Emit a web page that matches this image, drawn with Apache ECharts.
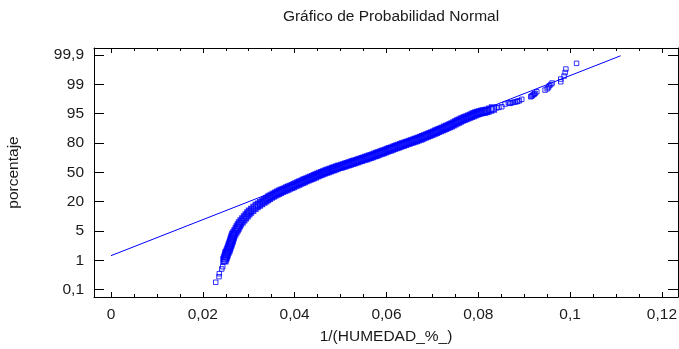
<!DOCTYPE html>
<html>
<head>
<meta charset="utf-8">
<script src="https://cdn.jsdelivr.net/npm/echarts@6/dist/echarts.min.js"></script>
<style>html,body{margin:0;padding:0;background:#fff}#c{width:679px;height:349px}</style>
</head>
<body>
<div id="c"></div>
<script>
// Titles / labels
var chartTitle = 'Gráfico de Probabilidad Normal';
var xName = '1/(HUMEDAD_%_)';
var yName = 'porcentaje';
// Y tick labels (probability scale, equally spaced positions 0..8)
var yTickLabels = ['0,1', '1', '5', '20', '50', '80', '95', '99', '99,9'];
// X ticks
var xMajorTicks = [0, 0.02, 0.04, 0.06, 0.08, 0.1, 0.12];
var xMinorTicks = [0.005, 0.01, 0.015, 0.025, 0.03, 0.035, 0.045, 0.05, 0.055, 0.065, 0.07, 0.075,
  0.085, 0.09, 0.095, 0.105, 0.11, 0.115];
// Fitted reference line (x, probability-axis position)
var fitLine = [[0, 1.159], [0.111, 7.975]];
// Observations: x = 1/HUMEDAD, y = position on the probability axis (0 = 0,1 % ... 8 = 99,9 %)
// lower tail (sparse points)
var lowTailX = [0.02281,0.02353,0.02359,0.02412,0.02433,0.02462];
var lowTailY = [0.252,0.443,0.545,0.706,0.784,0.954];
// dense central band
var coreX = [0.02470,0.02484,0.02500,0.02510,
  0.02521,0.02538,0.02555,0.02568,0.02580,0.02593,0.02605,0.02618,0.02630,0.02641,
  0.02652,0.02664,0.02686,0.02712,0.02738,0.02759,0.02784,0.02810,0.02845,0.02882,
  0.02919,0.02955,0.02992,0.03028,0.03076,0.03125,0.03174,0.03222,0.03270,0.03318,
  0.03360,0.03400,0.03440,0.03480,0.03520,0.03560,0.03600,0.03640,0.03680,0.03720,
  0.03760,0.03800,0.03840,0.03880,0.03920,0.03960,0.04000,0.04040,0.04080,0.04120,
  0.04160,0.04200,0.04240,0.04280,0.04320,0.04360,0.04400,0.04440,0.04480,0.04520,
  0.04560,0.04600,0.04640,0.04680,0.04720,0.04760,0.04800,0.04840,0.04880,0.04920,
  0.04960,0.05000,0.05040,0.05080,0.05120,0.05160,0.05200,0.05240,0.05280,0.05320,
  0.05360,0.05400,0.05440,0.05480,0.05520,0.05560,0.05600,0.05640,0.05680,0.05720,
  0.05760,0.05800,0.05840,0.05880,0.05920,0.05960,0.06000,0.06040,0.06080,0.06120,
  0.06160,0.06200,0.06240,0.06280,0.06320,0.06360,0.06400,0.06440,0.06480,0.06520,
  0.06560,0.06600,0.06640,0.06680,0.06720,0.06760,0.06800,0.06840,0.06880,0.06920,
  0.06960,0.07000,0.07040,0.07080,0.07120,0.07160,0.07200,0.07240,0.07280,0.07320,
  0.07360,0.07400,0.07440,0.07480,0.07520,0.07560,0.07600,0.07640,0.07680,0.07720,
  0.07760,0.07800,0.07840,0.07880,0.07920,0.07960,0.08000,0.08040,0.08080,0.08120,
  0.08160,0.08200,0.08260,0.08320];
var coreY = [1.000,1.070,1.130,1.190,
  1.241,1.300,1.353,1.410,1.470,1.524,1.580,1.640,1.694,1.750,
  1.810,1.864,1.920,1.990,2.059,2.120,2.190,2.263,2.330,2.400,
  2.468,2.530,2.600,2.658,2.720,2.790,2.853,2.900,2.950,2.999,
  3.046,3.090,3.134,3.173,3.206,3.239,3.272,3.305,3.338,3.366,
  3.394,3.421,3.449,3.476,3.504,3.533,3.562,3.591,3.620,3.648,
  3.677,3.705,3.732,3.759,3.786,3.813,3.840,3.867,3.894,3.921,
  3.947,3.974,4.000,4.023,4.046,4.069,4.092,4.115,4.138,4.161,
  4.184,4.198,4.219,4.240,4.261,4.282,4.302,4.323,4.344,4.365,
  4.386,4.407,4.428,4.449,4.470,4.490,4.511,4.532,4.555,4.578,
  4.601,4.625,4.648,4.671,4.694,4.718,4.741,4.764,4.787,4.811,
  4.834,4.857,4.881,4.905,4.928,4.950,4.972,4.994,5.015,5.037,
  5.059,5.081,5.103,5.125,5.147,5.171,5.198,5.225,5.251,5.278,
  5.305,5.331,5.358,5.385,5.411,5.438,5.465,5.493,5.521,5.549,
  5.577,5.606,5.638,5.670,5.702,5.734,5.766,5.798,5.825,5.851,
  5.877,5.903,5.929,5.955,5.981,6.007,6.026,6.042,6.059,6.075,
  6.091,6.108,6.142,6.178];
// upper tail (sparse clusters)
var highTailX = [0.08400,0.08450,0.08512,0.08584,0.08656,0.08693,
  0.08720,0.08765,0.08800,0.08839,0.08860,0.08895,0.08947,0.09144,0.09160,0.09180,
  0.09200,0.09220,0.09237,0.09274,0.09455,0.09500,0.09527,0.09549,0.09579,0.09608,
  0.09797,0.09797,0.09869,0.09891,0.09908,0.10141];
var highTailY = [6.200,6.215,6.237,6.329,6.373,6.353,
  6.370,6.387,6.400,6.408,6.430,6.442,6.489,6.578,6.600,6.620,
  6.653,6.670,6.694,6.748,6.806,6.850,6.892,6.953,6.994,7.045,
  7.089,7.181,7.284,7.403,7.522,7.716];

function pairs(xs, ys) { return xs.map(function (x, i) { return [x, ys[i]]; }); }
var yTickPos = yTickLabels.map(function (l, i) { return i; });

var txt = '#1a1a1a';
var font = 'Liberation Sans, Arial, sans-serif';
var FS = 15.5;
var BLUE = '#0000ff';
var X_MIN = -0.0037, X_MAX = 0.1235, Y_MIN = -0.25, Y_MAX = 8.24;

function fmtX(v) {
  return String(Math.round(v * 1000) / 1000).replace('.', ',');
}
function xAxisBase(pos, ticks, len, withLabels, withLine) {
  return {
    type: 'value', position: pos, min: X_MIN, max: X_MAX,
    axisLine: { show: withLine, onZero: false, lineStyle: { color: '#000', width: 1 } },
    axisTick: { show: true, inside: true, length: len, customValues: ticks, lineStyle: { color: '#000' } },
    axisLabel: withLabels ? { show: true, customValues: xMajorTicks, formatter: fmtX, color: txt,
      fontSize: FS, fontFamily: font, margin: 10 } : { show: false },
    splitLine: { show: false },
    name: withLabels ? xName : '',
    nameLocation: 'middle', nameGap: 32,
    nameTextStyle: { color: txt, fontSize: FS, fontFamily: font }
  };
}
function yAxisBase(pos, withLabels) {
  return {
    type: 'value', position: pos, min: Y_MIN, max: Y_MAX,
    axisLine: { show: true, onZero: false, lineStyle: { color: '#000', width: 1 } },
    axisTick: { show: true, inside: true, length: 10, customValues: yTickPos, lineStyle: { color: '#000' } },
    axisLabel: withLabels ? { show: true, customValues: yTickPos, formatter: function (v) {
      return yTickLabels[Math.round(v)];
    }, color: txt, fontSize: FS, fontFamily: font, margin: 10 } : { show: false },
    splitLine: { show: false },
    name: withLabels ? yName : '',
    nameLocation: 'middle', nameGap: 72, nameRotate: 90,
    nameTextStyle: { color: txt, fontSize: FS, fontFamily: font }
  };
}
function scatter(data, size, bw) {
  return {
    type: 'scatter', data: data, xAxisIndex: 0, yAxisIndex: 0,
    symbol: 'rect', symbolSize: size,
    itemStyle: { color: 'rgba(0,0,0,0)', borderColor: BLUE, borderWidth: bw }, z: 3
  };
}

var chart = echarts.init(document.getElementById('c'), null, { renderer: 'canvas' });
chart.setOption({
  animation: false,
  backgroundColor: '#fff',
  title: {
    text: chartTitle, left: 386, top: 4, textAlign: 'center',
    textStyle: { color: txt, fontSize: FS, fontWeight: 'normal', fontFamily: font }
  },
  grid: { left: 94, top: 48, width: 584, height: 249, containLabel: false, outerBoundsMode: 'none' },
  xAxis: [
    xAxisBase('bottom', xMajorTicks, 5, true, true),
    xAxisBase('bottom', xMinorTicks, 3, false, false),
    xAxisBase('top', xMajorTicks, 5, false, true),
    xAxisBase('top', xMinorTicks, 3, false, false)
  ],
  yAxis: [yAxisBase('left', true), yAxisBase('right', false)],
  series: [
    {
      type: 'line', data: fitLine, xAxisIndex: 0, yAxisIndex: 0,
      showSymbol: false, symbol: 'none', lineStyle: { color: BLUE, width: 1 }, z: 2
    },
    scatter(pairs(lowTailX, lowTailY), 4.5, 1),
    scatter(pairs(coreX, coreY), 6.5, 1.8),
    scatter(pairs(highTailX, highTailY), 4.5, 1)
  ]
});
</script>
</body>
</html>
